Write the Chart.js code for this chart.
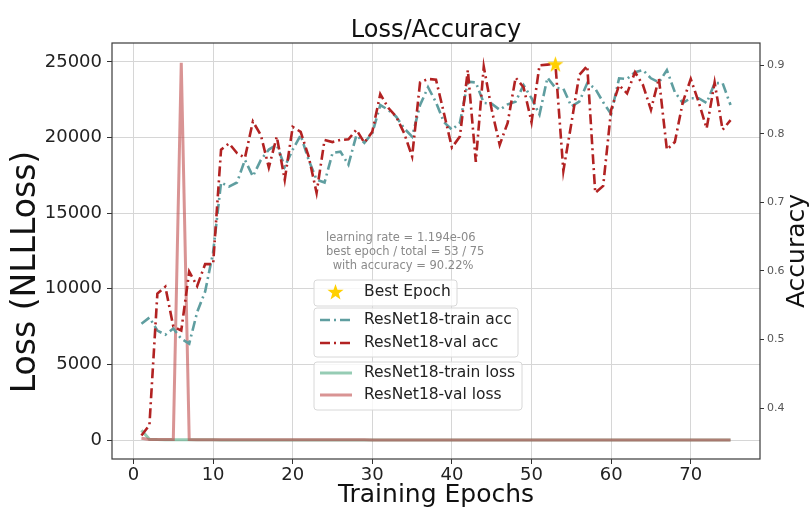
<!DOCTYPE html>
<html>
<head>
<meta charset="utf-8">
<title>Loss/Accuracy</title>
<script src="https://cdn.jsdelivr.net/npm/chart.js@4"></script>
<style>
  html, body { margin: 0; padding: 0; background: #fff; }
  canvas { display: block; }
</style>
</head>
<body>
<canvas id="chart" width="809" height="508"></canvas>
<script>
const epochs = [
  1, 2, 3, 4, 5, 6, 7, 8, 9, 10, 11, 12, 13, 14, 15,
  16, 17, 18, 19, 20, 21, 22, 23, 24, 25, 26, 27, 28, 29, 30,
  31, 32, 33, 34, 35, 36, 37, 38, 39, 40, 41, 42, 43, 44, 45,
  46, 47, 48, 49, 50, 51, 52, 53, 54, 55, 56, 57, 58, 59, 60,
  61, 62, 63, 64, 65, 66, 67, 68, 69, 70, 71, 72, 73, 74, 75,
];

const trainAcc = [
  0.523, 0.532, 0.513, 0.507, 0.516, 0.501, 0.494, 0.540, 0.570, 0.627, 0.729, 0.723, 0.729, 0.762, 0.738,
  0.762, 0.777, 0.784, 0.752, 0.777, 0.798, 0.762, 0.733, 0.729, 0.772, 0.774, 0.755, 0.798, 0.787, 0.801,
  0.842, 0.835, 0.825, 0.808, 0.796, 0.842, 0.868, 0.846, 0.817, 0.806, 0.816, 0.876, 0.875, 0.845, 0.844,
  0.835, 0.843, 0.847, 0.871, 0.852, 0.828, 0.882, 0.867, 0.866, 0.840, 0.847, 0.874, 0.866, 0.846, 0.829,
  0.881, 0.880, 0.890, 0.893, 0.881, 0.875, 0.893, 0.861, 0.845, 0.852, 0.852, 0.845, 0.874, 0.874, 0.842,
];

const valAcc = [
  0.360, 0.375, 0.567, 0.577, 0.519, 0.513, 0.599, 0.578, 0.610, 0.610, 0.777, 0.786, 0.772, 0.765, 0.818,
  0.798, 0.751, 0.796, 0.733, 0.810, 0.803, 0.767, 0.714, 0.791, 0.788, 0.791, 0.792, 0.806, 0.787, 0.803,
  0.858, 0.838, 0.825, 0.801, 0.767, 0.875, 0.880, 0.879, 0.830, 0.780, 0.796, 0.893, 0.759, 0.898, 0.835,
  0.784, 0.816, 0.882, 0.868, 0.817, 0.900, 0.901, 0.9022, 0.746, 0.815, 0.886, 0.899, 0.714, 0.724, 0.835,
  0.871, 0.859, 0.890, 0.871, 0.835, 0.881, 0.777, 0.788, 0.846, 0.880, 0.846, 0.808, 0.875, 0.806, 0.820,
];

const trainLoss = [
  650, 60, 35, 28, 24, 21, 19, 17, 16, 15, 14, 13, 12, 12, 11,
  11, 10, 10, 10, 9, 9, 9, 9, 8, 8, 8, 8, 8, 7, 7,
  7, 7, 7, 7, 6, 6, 6, 6, 6, 6, 6, 5, 5, 5, 5,
  5, 5, 5, 5, 5, 5, 4, 4, 4, 4, 4, 4, 4, 4, 4,
  4, 4, 4, 4, 3, 3, 3, 3, 3, 3, 3, 3, 3, 3, 3,
];

const valLoss = [
  120, 45, 40, 38, 36, 24950, 34, 30, 28, 26, 24, 22, 21, 20, 20,
  19, 19, 18, 18, 17, 17, 17, 16, 16, 16, 15, 15, 15, 15, 14,
  14, 14, 14, 13, 13, 13, 13, 13, 12, 12, 12, 12, 12, 12, 11,
  11, 11, 11, 11, 11, 11, 11, 10, 10, 10, 10, 10, 10, 10, 10,
  10, 10, 9, 9, 9, 9, 9, 9, 9, 9, 9, 9, 9, 9, 9,
];

const xTicks = [0, 10, 20, 30, 40, 50, 60, 70];
const lossTicks = [0, 5000, 10000, 15000, 20000, 25000];
const accTicks = [0.4, 0.5, 0.6, 0.7, 0.8, 0.9];

const bestEpoch = 53;
const bestAcc = 0.9022;
const totalEpochs = 75;
const learningRate = "1.194e-06";

const FONT = "'DejaVu Sans', 'Liberation Sans', sans-serif";
const ACC_DASH = [10, 4, 2, 4];
const TEAL = "#5f9ea0";
const RED = "#b22222";
const TRAIN_LOSS = "rgba(80, 170, 130, 0.6)";
const VAL_LOSS = "rgba(190, 70, 70, 0.58)";
const GOLD = "#ffd000";

function toPoints(values) {
  return values.map((v, i) => ({ x: epochs[i], y: v }));
}

function makeStar(size, color) {
  const c = document.createElement("canvas");
  c.width = size;
  c.height = size;
  const g = c.getContext("2d");
  const outer = size / 2;
  const inner = outer * 0.4;
  g.beginPath();
  for (let i = 0; i < 10; i++) {
    const r = i % 2 ? inner : outer;
    const a = -Math.PI / 2 + (i * Math.PI) / 5;
    g.lineTo(size / 2 + r * Math.cos(a), size / 2 + 1 + r * Math.sin(a));
  }
  g.closePath();
  g.fillStyle = color;
  g.fill();
  return c;
}

const starImg = makeStar(17, GOLD);

function legendBox(ctx, x, y, w, h) {
  ctx.beginPath();
  ctx.roundRect(x, y, w, h, 3);
  ctx.fillStyle = "rgba(255, 255, 255, 0.8)";
  ctx.fill();
  ctx.strokeStyle = "#d8d8d8";
  ctx.lineWidth = 1;
  ctx.stroke();
}

function legendLine(ctx, x, y, color, width, dash) {
  ctx.beginPath();
  ctx.setLineDash(dash);
  ctx.strokeStyle = color;
  ctx.lineWidth = width;
  ctx.moveTo(x, y);
  ctx.lineTo(x + 32, y);
  ctx.stroke();
  ctx.setLineDash([]);
}

const decorations = {
  id: "decorations",
  afterDraw(chart) {
    const { ctx, chartArea: a } = chart;
    ctx.save();

    // frame round the plot
    ctx.strokeStyle = "#3a3a3a";
    ctx.lineWidth = 1.2;
    ctx.strokeRect(a.left, a.top, a.right - a.left, a.bottom - a.top);

    // title and y titles
    ctx.fillStyle = "#111";
    ctx.textAlign = "center";
    ctx.textBaseline = "alphabetic";
    ctx.font = `24px ${FONT}`;
    ctx.fillText("Loss/Accuracy", (a.left + a.right) / 2, a.top - 6);

    ctx.textBaseline = "middle";
    ctx.save();
    ctx.translate(a.left - 86, a.top + 229);
    ctx.rotate(-Math.PI / 2);
    ctx.font = `33px ${FONT}`;
    ctx.fillText("Loss (NLLLoss)", 0, 0);
    ctx.restore();

    ctx.save();
    ctx.translate(a.right + 37, (a.top + a.bottom) / 2);
    ctx.rotate(-Math.PI / 2);
    ctx.font = `25px ${FONT}`;
    ctx.fillText("Accuracy", 0, 0);
    ctx.restore();

    // annotation
    const ax = a.left + 214;
    ctx.textAlign = "left";
    ctx.fillStyle = "#8a8a8a";
    ctx.font = `11.5px ${FONT}`;
    ctx.fillText(`learning rate = ${learningRate}`, ax, 238);
    ctx.fillText(`best epoch / total = ${bestEpoch} / ${totalEpochs}`, ax, 252);
    ctx.fillText(` with accuracy = ${(bestAcc * 100).toFixed(2)}%`, ax + 3, 266);

    // legends
    const lx = a.left + 202;
    const tx = lx + 50;
    ctx.font = `15.5px ${FONT}`;

    legendBox(ctx, lx, 280, 143, 26);
    ctx.drawImage(starImg, lx + 13, 283);
    ctx.fillStyle = "#222";
    ctx.fillText("Best Epoch", tx, 292);

    legendBox(ctx, lx, 308, 204, 49);
    legendLine(ctx, lx + 6, 320, TEAL, 2.6, ACC_DASH);
    legendLine(ctx, lx + 6, 343, RED, 2.6, ACC_DASH);
    ctx.fillStyle = "#222";
    ctx.fillText("ResNet18-train acc", tx, 320);
    ctx.fillText("ResNet18-val acc", tx, 343);

    legendBox(ctx, lx, 362, 208, 48);
    legendLine(ctx, lx + 6, 373, TRAIN_LOSS, 3, []);
    legendLine(ctx, lx + 6, 395, VAL_LOSS, 3, []);
    ctx.fillStyle = "#222";
    ctx.fillText("ResNet18-train loss", tx, 373);
    ctx.fillText("ResNet18-val loss", tx, 395);

    ctx.restore();
  },
};

const tickFont = { family: FONT, size: 18 };

new Chart(document.getElementById("chart"), {
  type: "line",
  data: {
    datasets: [
      {
        label: "Best Epoch",
        type: "scatter",
        data: [{ x: bestEpoch, y: bestAcc }],
        yAxisID: "y1",
        pointStyle: starImg,
        pointRadius: 9,
      },
      {
        label: "ResNet18-val acc",
        data: toPoints(valAcc),
        yAxisID: "y1",
        borderColor: RED,
        borderWidth: 2.6,
        borderDash: ACC_DASH,
        pointRadius: 0,
        tension: 0,
      },
      {
        label: "ResNet18-train acc",
        data: toPoints(trainAcc),
        yAxisID: "y1",
        borderColor: TEAL,
        borderWidth: 2.6,
        borderDash: ACC_DASH,
        pointRadius: 0,
        tension: 0,
      },
      {
        label: "ResNet18-val loss",
        data: toPoints(valLoss),
        yAxisID: "y",
        borderColor: VAL_LOSS,
        borderWidth: 3,
        pointRadius: 0,
        tension: 0,
      },
      {
        label: "ResNet18-train loss",
        data: toPoints(trainLoss),
        yAxisID: "y",
        borderColor: TRAIN_LOSS,
        borderWidth: 3,
        pointRadius: 0,
        tension: 0,
      },
    ],
  },
  options: {
    responsive: false,
    animation: false,
    devicePixelRatio: 1,
    layout: { padding: { top: 43, left: 0, right: 0, bottom: 0 } },
    plugins: {
      legend: { display: false },
      title: { display: false },
      tooltip: { enabled: false },
    },
    scales: {
      x: {
        type: "linear",
        min: -2.7,
        max: 78.7,
        afterBuildTicks: (s) => { s.ticks = xTicks.map((v) => ({ value: v })); },
        afterFit: (s) => { s.height = 49; },
        grid: { color: "#d6d6d6", tickColor: "#333", tickLength: 5 },
        border: { display: false },
        ticks: {
          font: tickFont,
          color: "#222",
          padding: 1,
          maxRotation: 0,
          autoSkip: false,
          callback: (v) => String(v),
        },
        title: {
          display: true,
          text: "Training Epochs",
          font: { family: FONT, size: 25, lineHeight: 1 },
          color: "#111",
          padding: 0,
        },
      },
      y: {
        position: "left",
        min: -1250,
        max: 26250,
        afterBuildTicks: (s) => { s.ticks = lossTicks.map((v) => ({ value: v })); },
        afterFit: (s) => { s.width = 112; },
        grid: { color: "#d6d6d6", tickColor: "#333", tickLength: 5 },
        border: { display: false },
        ticks: { font: tickFont, color: "#222", padding: 5, callback: (v) => String(v) },
      },
      y1: {
        position: "right",
        min: 0.3257,
        max: 0.9325,
        afterBuildTicks: (s) => { s.ticks = accTicks.map((v) => ({ value: v })); },
        afterFit: (s) => { s.width = 49; },
        grid: { drawOnChartArea: false, tickColor: "#333", tickLength: 4 },
        border: { display: false },
        ticks: { font: { family: FONT, size: 11 }, color: "#555", padding: 3, callback: (v) => v.toFixed(1) },
      },
    },
  },
  plugins: [decorations],
});
</script>
</body>
</html>
